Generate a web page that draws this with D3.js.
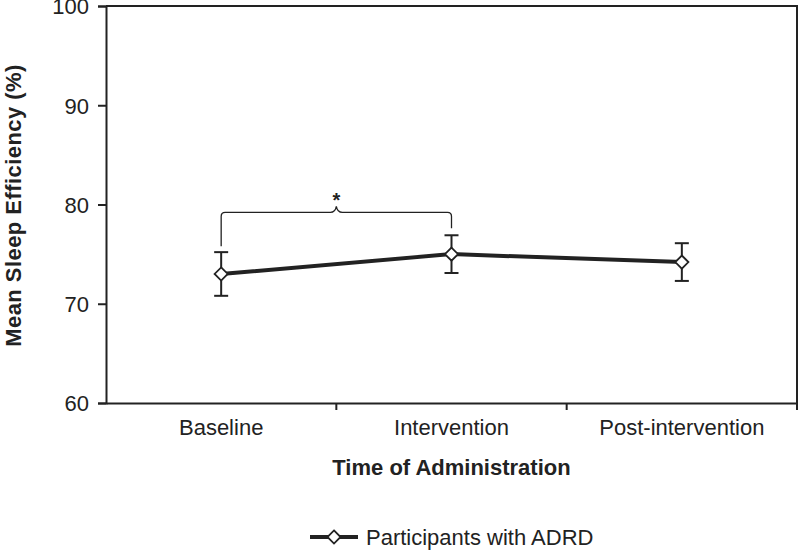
<!DOCTYPE html>
<html>
<head>
<meta charset="utf-8">
<script src="https://cdn.jsdelivr.net/npm/d3@7"></script>
<style>
  body { margin: 0; background: #fff; }
  text { font-family: "Liberation Sans", Arial, sans-serif; fill: #222; }
</style>
</head>
<body>
<figure id="chart" style="margin:0"></figure>
<script>
const categories = ["Baseline", "Intervention", "Post-intervention"];
const means = [73.0, 75.0, 74.2];
const errors = [2.2, 1.9, 1.9];
const yTicks = [60, 70, 80, 90, 100];
const seriesName = "Participants with ADRD";

const width = 800, height = 550;
const margin = { top: 6, right: 3, bottom: 147, left: 106 };
const ink = "#222";
const fs = "22px";

const svg = d3.select("#chart")
  .append("svg")
  .attr("width", width)
  .attr("height", height);

const x = d3.scaleBand()
  .domain(categories)
  .range([margin.left, width - margin.right]);

const y = d3.scaleLinear()
  .domain([60, 100])
  .range([height - margin.bottom, margin.top]);

const cx = d => x(d) + x.bandwidth() / 2;

// frame (top + right)
svg.append("path")
  .attr("d", `M${margin.left},${margin.top}H${width - margin.right}V${height - margin.bottom}`)
  .attr("fill", "none")
  .attr("stroke", ink)
  .attr("stroke-width", 2);

// y axis
const yAxis = svg.append("g")
  .attr("transform", `translate(${margin.left},0)`)
  .call(d3.axisLeft(y).tickValues(yTicks).tickSize(8).tickPadding(9));
yAxis.selectAll("text").style("font-size", fs).attr("dy", "0.36em");

// x axis with ticks on the band boundaries
const xAxis = svg.append("g")
  .attr("transform", `translate(0,${height - margin.bottom})`)
  .call(d3.axisBottom(x).tickSize(0).tickPadding(16));
xAxis.selectAll("text").style("font-size", fs);
const bounds = categories.map(c => x(c)).concat([width - margin.right]);
xAxis.selectAll(".bound")
  .data(bounds.slice(1))
  .enter()
  .append("line")
  .attr("x1", d => d).attr("x2", d => d)
  .attr("y1", 0).attr("y2", 7)
  .attr("stroke", ink)
  .attr("stroke-width", 2);

svg.selectAll(".domain, .tick line")
  .attr("stroke", ink)
  .attr("stroke-width", 2);

// axis titles
svg.append("text")
  .attr("x", cx(categories[1]))
  .attr("y", 475)
  .attr("text-anchor", "middle")
  .style("font-size", fs)
  .style("font-weight", "bold")
  .text("Time of Administration");

svg.append("text")
  .attr("transform", `translate(21,${(y(60) + y(100)) / 2 + 1}) rotate(-90)`)
  .attr("text-anchor", "middle")
  .style("font-size", fs)
  .style("font-weight", "bold")
  .style("letter-spacing", "0.45px")
  .text("Mean Sleep Efficiency (%)");

// significance bracket between Baseline and Intervention
const bY = y(79.2);
const bx0 = cx(categories[0]), bx1 = cx(categories[1]);
const mid = x(categories[1]);
svg.append("path")
  .attr("d", `M${bx0},${y(75.8)}V${bY + 4}Q${bx0},${bY} ${bx0 + 4},${bY}` +
    `H${mid - 6}Q${mid - 1},${bY} ${mid},${bY - 6}` +
    `Q${mid + 1},${bY} ${mid + 6},${bY}` +
    `H${bx1 - 4}Q${bx1},${bY} ${bx1},${bY + 4}V${y(77.6)}`)
  .attr("fill", "none")
  .attr("stroke", ink)
  .attr("stroke-width", 1.3);

svg.append("text")
  .attr("x", mid)
  .attr("y", bY - 5)
  .attr("text-anchor", "middle")
  .style("font-size", "20px")
  .style("font-weight", "bold")
  .text("*");

// error bars
const eb = svg.selectAll(".err")
  .data(categories)
  .enter()
  .append("g");
eb.append("line")
  .attr("x1", d => cx(d)).attr("x2", d => cx(d))
  .attr("y1", (d, i) => y(means[i] - errors[i]))
  .attr("y2", (d, i) => y(means[i] + errors[i]));
eb.append("line")
  .attr("x1", d => cx(d) - 7).attr("x2", d => cx(d) + 7)
  .attr("y1", (d, i) => y(means[i] - errors[i]))
  .attr("y2", (d, i) => y(means[i] - errors[i]));
eb.append("line")
  .attr("x1", d => cx(d) - 7).attr("x2", d => cx(d) + 7)
  .attr("y1", (d, i) => y(means[i] + errors[i]))
  .attr("y2", (d, i) => y(means[i] + errors[i]));
eb.selectAll("line")
  .attr("stroke", ink)
  .attr("stroke-width", 2);

// mean line
const line = d3.line()
  .x(d => cx(d))
  .y((d, i) => y(means[i]));
svg.append("path")
  .datum(categories)
  .attr("d", line)
  .attr("fill", "none")
  .attr("stroke", ink)
  .attr("stroke-width", 4);

// diamond markers
const diamond = d3.symbol().type(d3.symbolDiamond2).size(110);
svg.selectAll(".pt")
  .data(categories)
  .enter()
  .append("path")
  .attr("d", diamond)
  .attr("transform", (d, i) => `translate(${cx(d)},${y(means[i])})`)
  .attr("fill", "#fff")
  .attr("stroke", ink)
  .attr("stroke-width", 1.8);

// legend
const lg = svg.append("g").attr("transform", "translate(310,537)");
lg.append("line")
  .attr("x1", 0).attr("x2", 48)
  .attr("stroke", ink)
  .attr("stroke-width", 4);
lg.append("path")
  .attr("d", diamond)
  .attr("transform", "translate(24,0)")
  .attr("fill", "#fff")
  .attr("stroke", ink)
  .attr("stroke-width", 1.8);
lg.append("text")
  .attr("x", 56)
  .attr("y", 0)
  .attr("dy", "0.35em")
  .style("font-size", fs)
  .text(seriesName);
</script>
</body>
</html>
